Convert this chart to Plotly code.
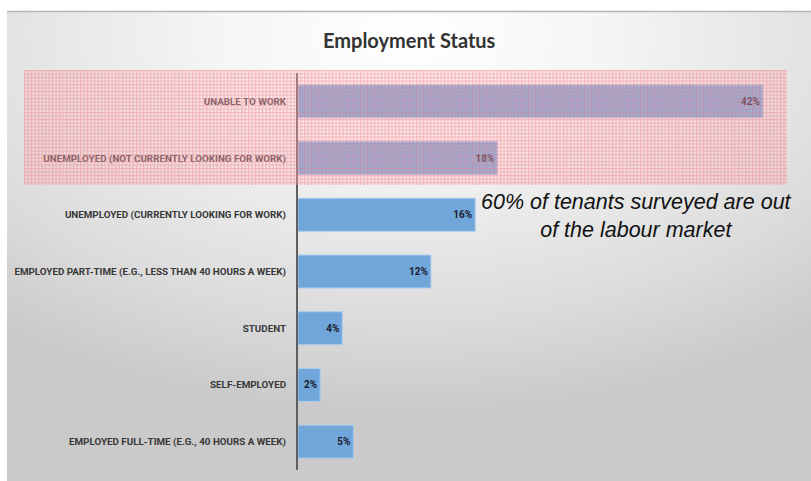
import base64
import plotly.graph_objects as go

categories = [
    "UNABLE TO WORK",
    "UNEMPLOYED (NOT CURRENTLY LOOKING FOR WORK)",
    "UNEMPLOYED (CURRENTLY LOOKING FOR WORK)",
    "EMPLOYED PART-TIME (E.G., LESS THAN 40 HOURS A WEEK)",
    "STUDENT",
    "SELF-EMPLOYED",
    "EMPLOYED FULL-TIME (E.G., 40 HOURS A WEEK)",
]
values = [42, 18, 16, 12, 4, 2, 5]
value_labels = [f"{v}%" for v in values]
title_text = "Employment Status"
note_text = "60% of tenants surveyed are out<br>of the labour market"

W, H = 811, 481
ML, MR, MT, MB = 298, 24, 73, 11
PW, PH = W - ML - MR, H - MT - MB


def px_x(p):
    return (p - ML) / PW


def px_y(p):
    return (H - MB - p) / PH


bg_svg = """<svg xmlns='http://www.w3.org/2000/svg' width='804' height='469' viewBox='0 0 804 469' preserveAspectRatio='none'>
<defs><radialGradient id='g' cx='0.5' cy='0.05' r='0.8' fx='0.5' fy='0.05'>
<stop offset='0' stop-color='#ffffff'/><stop offset='0.3' stop-color='#f5f5f5'/>
<stop offset='0.75' stop-color='#dcdcdc'/><stop offset='1' stop-color='#cacaca'/></radialGradient></defs>
<rect width='804' height='469' fill='url(#g)'/></svg>"""

grid_svg = """<svg xmlns='http://www.w3.org/2000/svg' width='763' height='115' viewBox='0 0 763 115' preserveAspectRatio='none'>
<defs><pattern id='p' width='3.5' height='3.5' patternUnits='userSpaceOnUse'>
<rect width='3.5' height='3.5' fill='rgba(255,200,205,0.28)'/>
<rect x='0' y='0' width='3.5' height='1.2' fill='rgba(240,110,125,0.42)'/>
<rect x='0' y='1.2' width='1.2' height='2.3' fill='rgba(240,110,125,0.42)'/>
</pattern></defs>
<rect width='763' height='115' fill='url(#p)'/></svg>"""


def uri(s):
    return "data:image/svg+xml;base64," + base64.b64encode(s.encode()).decode()


fig = go.Figure(
    go.Bar(
        x=values,
        y=categories,
        orientation="h",
        text=value_labels,
        textposition="inside",
        insidetextanchor="end",
        textangle=0,
        textfont=dict(family="Roboto, sans-serif", size=10, color="#1a1a2e", weight="bold"),
        marker=dict(color="#70a6da", line=dict(color="#a8cbee", width=1)),
        width=0.58,
        cliponaxis=False,
    )
)

fig.update_layout(
    width=W,
    height=H,
    margin=dict(l=ML, r=MR, t=MT, b=MB, pad=0),
    paper_bgcolor="white",
    plot_bgcolor="rgba(0,0,0,0)",
    showlegend=False,
    uniformtext=dict(minsize=9, mode="show"),
    xaxis=dict(range=[0, 44.17], visible=False, fixedrange=True, automargin=False),
    yaxis=dict(
        autorange="reversed",
        automargin=False,
        showline=True,
        linecolor="#5f5f5f",
        linewidth=2,
        ticks="outside",
        ticklen=8,
        tickcolor="rgba(0,0,0,0)",
        tickfont=dict(family="Roboto, sans-serif", size=9.8, color="#383838", weight="bold"),
        showgrid=False,
        zeroline=False,
    ),
    images=[
        dict(source=uri(bg_svg), xref="paper", yref="paper",
             x=px_x(7), y=px_y(12), sizex=(811 - 7) / PW, sizey=(481 - 12) / PH,
             xanchor="left", yanchor="top", sizing="stretch", layer="below"),
        dict(source=uri(grid_svg), xref="paper", yref="paper",
             x=px_x(24), y=px_y(70), sizex=(787 - 24) / PW, sizey=(185 - 70) / PH,
             xanchor="left", yanchor="top", sizing="stretch", layer="above"),
    ],
    shapes=[
        dict(type="line", xref="paper", yref="paper", x0=px_x(7), x1=px_x(811),
             y0=px_y(11.5), y1=px_y(11.5), line=dict(color="#b5b5b5", width=1.5)),
    ],
    annotations=[
        dict(text=title_text, xref="paper", yref="paper", x=px_x(409), y=px_y(40),
             xanchor="center", yanchor="middle", showarrow=False,
             font=dict(family="Lato, sans-serif", size=20, color="#333333", weight="bold")),
        dict(text=note_text, xref="paper", yref="paper", x=px_x(636), y=px_y(216),
             xanchor="center", yanchor="middle", showarrow=False, align="center",
             font=dict(family="Liberation Sans, Arial, sans-serif", size=21.5, color="#111111", style="italic")),
    ],
)

fig.write_html("out.html")
